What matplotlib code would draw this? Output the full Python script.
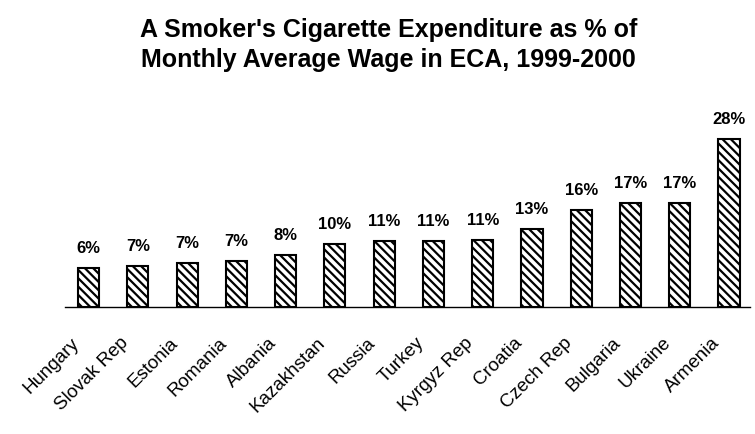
import matplotlib
matplotlib.use("Agg")
import matplotlib.pyplot as plt
from matplotlib.transforms import ScaledTranslation

countries = ["Hungary", "Slovak Rep", "Estonia", "Romania", "Albania", "Kazakhstan",
             "Russia", "Turkey", "Kyrgyz Rep", "Croatia", "Czech Rep", "Bulgaria",
             "Ukraine", "Armenia"]
# bar heights (% of monthly wage)
values = [6.5, 6.8, 7.3, 7.6, 8.6, 10.5, 11.0, 11.0, 11.1, 13.0, 16.2, 17.3, 17.3, 28.0]
value_labels = ["6%", "7%", "7%", "7%", "8%", "10%", "11%", "11%", "11%", "13%",
                "16%", "17%", "17%", "28%"]

plt.rcParams["font.family"] = ["Liberation Sans", "DejaVu Sans"]
plt.rcParams["hatch.linewidth"] = 1.6

fig = plt.figure(figsize=(7.55, 4.35), dpi=100)
ax = fig.add_axes([0.086, 0.292, 0.907, 0.432])

x = list(range(len(countries)))
ax.bar(x, values, width=0.43, color="white", edgecolor="black",
       linewidth=1.5, hatch="\\\\\\\\")

for xi, v, lab in zip(x, values, value_labels):
    ax.text(xi, v + 2.2, lab, ha="center", va="bottom", fontsize=12,
            fontweight="bold")

ax.set_xlim(-0.48, 13.42)
ax.set_ylim(0, 31.3)

for side in ["top", "right", "left"]:
    ax.spines[side].set_visible(False)
ax.spines["bottom"].set_linewidth(1.0)
ax.set_yticks([])
ax.set_xticks(x)
ax.set_xticklabels(countries, rotation=45, ha="right", va="top",
                   rotation_mode="anchor", fontsize=13.5)
ax.tick_params(axis="x", length=0, pad=19)

# labels sit a little left of the bar centre in the original
shift = ScaledTranslation(-0.18, 0, fig.dpi_scale_trans)
for lbl in ax.get_xticklabels():
    lbl.set_transform(lbl.get_transform() + shift)

fig.text(0.515, 0.897, "A Smoker's Cigarette Expenditure as % of\n"
         "Monthly Average Wage in ECA, 1999-2000",
         ha="center", va="center", fontsize=18, fontweight="bold",
         linespacing=1.3)

fig.savefig("out.png", dpi=100)
